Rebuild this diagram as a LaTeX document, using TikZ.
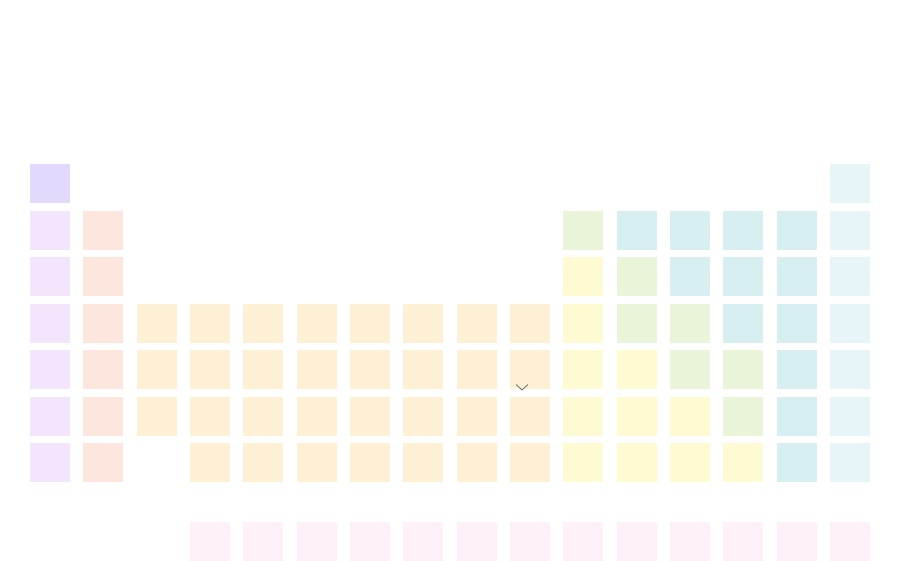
\documentclass[tikz,border=0pt]{standalone}
\definecolor{hyd}{HTML}{E3D9FC}
\definecolor{alk}{HTML}{F3E5FB}
\definecolor{alke}{HTML}{FDE6DE}
\definecolor{trans}{HTML}{FEF0D4}
\definecolor{metl}{HTML}{E9F4D8}
\definecolor{post}{HTML}{FEFBD3}
\definecolor{nonm}{HTML}{D7EFF0}
\definecolor{nobl}{HTML}{E7F4F8}
\definecolor{lanth}{HTML}{FDF0F8}
\begin{document}
\begin{tikzpicture}[x=1pt,y=-1pt,
  cell/.style={minimum width=40pt, minimum height=39pt, inner sep=0pt, outer sep=0pt, anchor=north west, draw=none, fill=#1}]
\useasboundingbox (0,0) rectangle (901,560);
\clip (0,0) rectangle (901,560);
\newcommand\cellat[4]{\node[cell=#4] (#1) at ({30+53.3333*(#2-1)}, {164+46.5*(#3-1)}) {};}
% hydrogen
\cellat{c1r1}{1}{1}{hyd}
% alkali
\foreach \r in {2,...,7} {\cellat{c1r\r}{1}{\r}{alk}}
\foreach \r in {2,...,7} {\cellat{c2r\r}{2}{\r}{alke}}
% transition
\foreach \r in {4,5,6} {\cellat{c3r\r}{3}{\r}{trans}}
\foreach \c in {4,...,10} {\foreach \r in {4,...,7} {\cellat{c\c r\r}{\c}{\r}{trans}}}
% p-block
\cellat{c11r2}{11}{2}{metl}
\foreach \r in {3,...,7} {\cellat{c11r\r}{11}{\r}{post}}
\cellat{c12r2}{12}{2}{nonm}
\foreach \r in {3,4} {\cellat{c12r\r}{12}{\r}{metl}}
\foreach \r in {5,6,7} {\cellat{c12r\r}{12}{\r}{post}}
\foreach \r in {2,3} {\cellat{c13r\r}{13}{\r}{nonm}}
\foreach \r in {4,5} {\cellat{c13r\r}{13}{\r}{metl}}
\foreach \r in {6,7} {\cellat{c13r\r}{13}{\r}{post}}
\foreach \r in {2,3,4} {\cellat{c14r\r}{14}{\r}{nonm}}
\foreach \r in {5,6} {\cellat{c14r\r}{14}{\r}{metl}}
\cellat{c14r7}{14}{7}{post}
\foreach \r in {2,...,7} {\cellat{c15r\r}{15}{\r}{nonm}}
\foreach \r in {1,...,7} {\cellat{c16r\r}{16}{\r}{nobl}}
% f-block row
\foreach \c in {4,...,16} {\node[cell=lanth] (f\c) at ({30+53.3333*(\c-1)}, 522) {};}
% chevron
\draw[black!65, line width=0.7pt] (516,384.5) -- (522,390) -- (528,384.5);
\end{tikzpicture}
\end{document}
